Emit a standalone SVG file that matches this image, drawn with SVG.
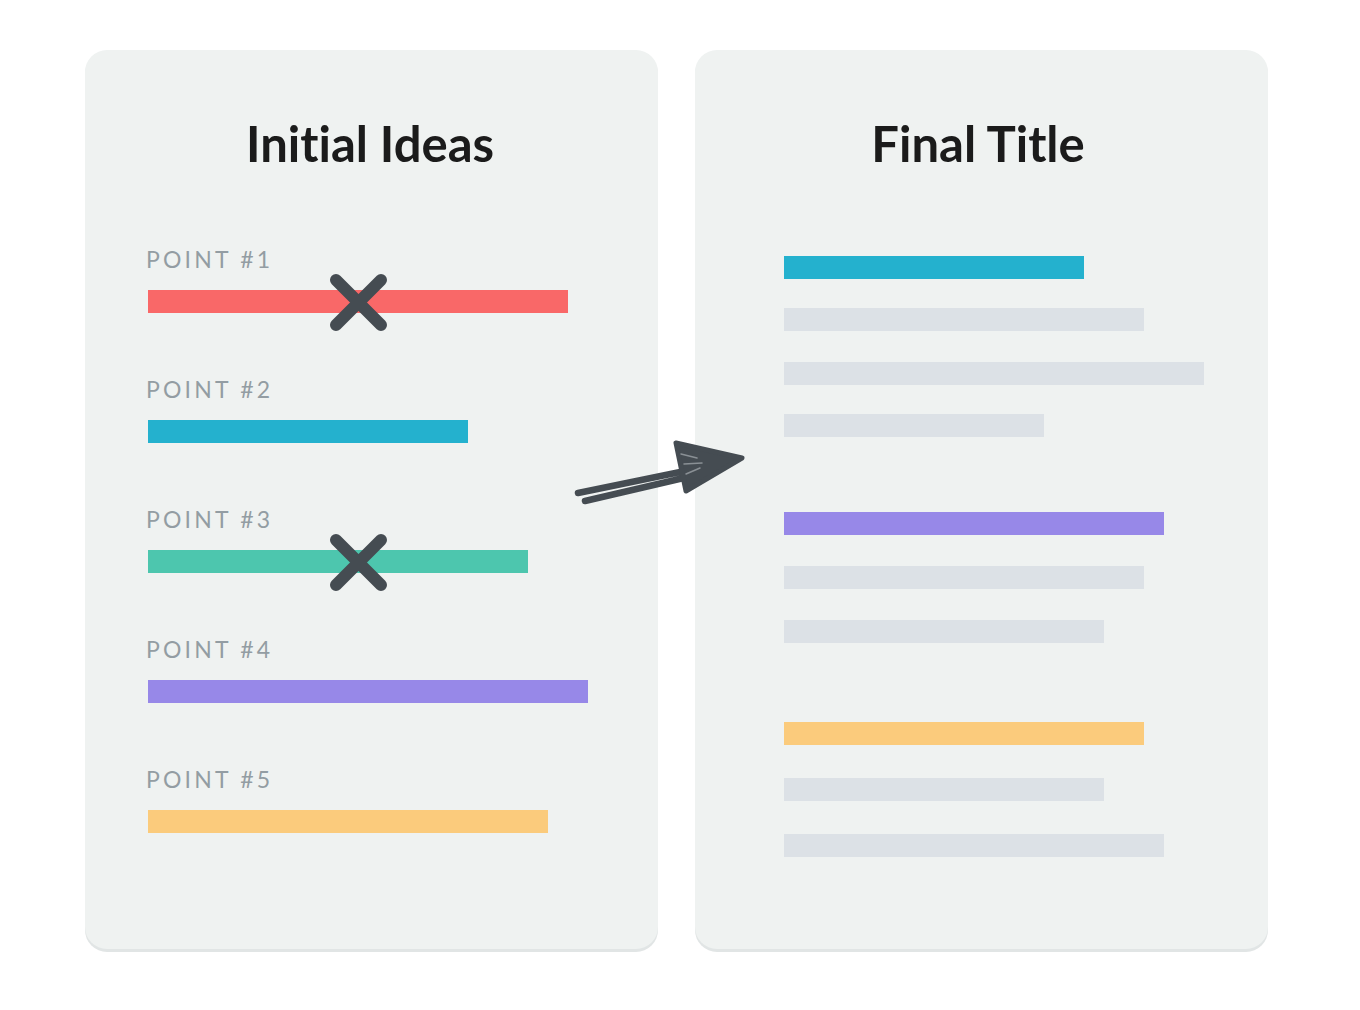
<svg xmlns="http://www.w3.org/2000/svg" width="1360" height="1010" viewBox="0 0 1360 1010">
<style>
.panel{fill:#EFF2F1}
.shadow{fill:#E1E5E5}
.title{font-family:Lato,"Open Sans",sans-serif;font-weight:bold;font-size:49px;fill:#1B1B1B;text-anchor:middle;font-variant-ligatures:none}
.lbl{font-family:Lato,"Open Sans",sans-serif;font-size:23px;fill:#939DA3;letter-spacing:3.2px}
.grey{fill:#DCE1E6}
.x{stroke:#454C52;stroke-width:12;stroke-linecap:round;fill:none}
</style>
<rect width="1360" height="1010" fill="#FFFFFF"/>
<g id="panel-initial">
<rect class="shadow" x="85" y="52" width="573" height="900" rx="22"/>
<rect class="panel" x="85" y="50" width="573" height="899" rx="22"/>
<text class="title" x="370" y="162">Initial Ideas</text>
</g>
<g id="panel-final">
<rect class="shadow" x="695" y="52" width="573" height="900" rx="22"/>
<rect class="panel" x="695" y="50" width="573" height="899" rx="22"/>
<text class="title" x="978" y="162">Final Title</text>
</g>
<g id="point1">
<text class="lbl" x="146" y="268">POINT #1</text>
<rect x="148" y="290" width="420" height="23" fill="#F96868"/>
<path class="x" d="M336,280 L381,325 M381,280 L336,325"/>
</g>
<g id="point2">
<text class="lbl" x="146" y="398">POINT #2</text>
<rect x="148" y="420" width="320" height="23" fill="#24B1CE"/>
</g>
<g id="point3">
<text class="lbl" x="146" y="528">POINT #3</text>
<rect x="148" y="550" width="380" height="23" fill="#4DC6AE"/>
<path class="x" d="M336,540 L381,585 M381,540 L336,585"/>
</g>
<g id="point4">
<text class="lbl" x="146" y="658">POINT #4</text>
<rect x="148" y="680" width="440" height="23" fill="#9788E8"/>
</g>
<g id="point5">
<text class="lbl" x="146" y="788">POINT #5</text>
<rect x="148" y="810" width="400" height="23" fill="#FBCB7C"/>
</g>
<g id="final-lines">
<rect x="784" y="256" width="300" height="23" fill="#24B1CE"/>
<rect class="grey" x="784" y="308" width="360" height="23"/>
<rect class="grey" x="784" y="362" width="420" height="23"/>
<rect class="grey" x="784" y="414" width="260" height="23"/>
<rect x="784" y="512" width="380" height="23" fill="#9788E8"/>
<rect class="grey" x="784" y="566" width="360" height="23"/>
<rect class="grey" x="784" y="620" width="320" height="23"/>
<rect x="784" y="722" width="360" height="23" fill="#FBCB7C"/>
<rect class="grey" x="784" y="778" width="320" height="23"/>
<rect class="grey" x="784" y="834" width="380" height="23"/>
</g>
<g id="connectors">
<path d="M578,493 L690,470 M585,501 L688,477" stroke="#454C52" stroke-width="6.5" stroke-linecap="round" fill="none"/>
<path d="M676,443 L742,458 L686,491 Z" fill="#454C52" stroke="#454C52" stroke-width="5" stroke-linejoin="round"/>
<path d="M681,454 L697,458 M684,464 L702,463 M686,474 L700,468" stroke="#8A9095" stroke-width="1.5" stroke-linecap="round" fill="none"/>
</g>
</svg>
